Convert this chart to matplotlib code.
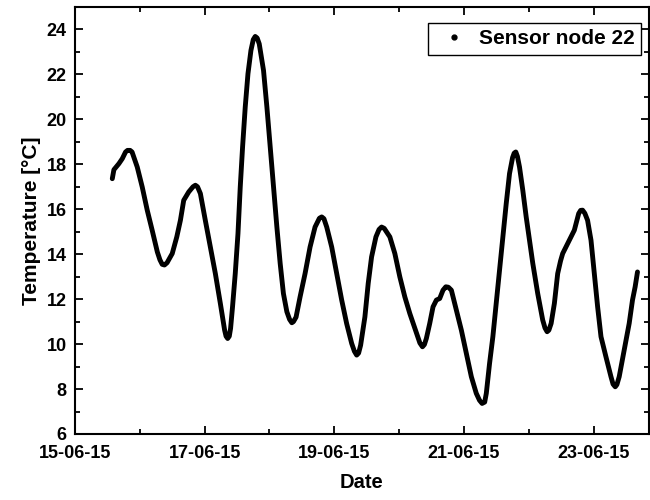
import matplotlib
matplotlib.use("Agg")
import matplotlib.pyplot as plt
import matplotlib.dates as mdates
from matplotlib.lines import Line2D
from matplotlib.ticker import MultipleLocator
from datetime import datetime, timedelta

# Time in days (day of June 2015, fractional) and temperature readings
day = [15.575, 15.60, 15.677, 15.729, 15.78, 15.81, 15.85, 15.88, 15.96, 16.037,
       16.114, 16.19, 16.27, 16.31, 16.345, 16.38, 16.42, 16.50, 16.57, 16.626,
       16.677, 16.754, 16.82, 16.857, 16.89, 16.934, 17.01, 17.088, 17.165, 17.242,
       17.308, 17.33, 17.355, 17.38, 17.40, 17.43, 17.472, 17.514, 17.549, 17.585,
       17.626, 17.668, 17.714, 17.75, 17.78, 17.81, 17.842, 17.908, 17.96, 18.011,
       18.062, 18.114, 18.165, 18.215, 18.268, 18.31, 18.345, 18.37, 18.41, 18.472,
       18.549, 18.626, 18.703, 18.77, 18.806, 18.84, 18.883, 18.96, 19.037, 19.114,
       19.19, 19.268, 19.31, 19.345, 19.375, 19.406, 19.472, 19.523, 19.575, 19.642,
       19.69, 19.729, 19.77, 19.806, 19.857, 19.934, 20.011, 20.088, 20.165, 20.268,
       20.32, 20.36, 20.39, 20.42, 20.472, 20.523, 20.575, 20.626, 20.677, 20.72,
       20.76, 20.806, 20.883, 20.96, 21.037, 21.114, 21.19, 21.24, 21.28, 21.32,
       21.345, 21.395, 21.446, 21.498, 21.549, 21.60, 21.652, 21.703, 21.75, 21.775,
       21.80, 21.825, 21.857, 21.908, 21.96, 22.011, 22.062, 22.138, 22.215, 22.25,
       22.283, 22.31, 22.345, 22.395, 22.446, 22.49, 22.523, 22.626, 22.703, 22.77,
       22.80, 22.83, 22.865, 22.907, 22.96, 23.011, 23.062, 23.114, 23.19, 23.268,
       23.30, 23.334, 23.36, 23.395, 23.472, 23.549, 23.60, 23.641, 23.677]
temp = [17.36, 17.76, 18.03, 18.25, 18.55, 18.62, 18.62, 18.55, 17.88, 16.99,
        15.96, 15.07, 14.10, 13.75, 13.55, 13.52, 13.62, 14.03, 14.77, 15.51,
        16.40, 16.77, 17.00, 17.07, 17.00, 16.70, 15.51, 14.32, 13.14, 11.81,
        10.62, 10.35, 10.25, 10.35, 10.70, 11.66, 13.14, 14.92, 16.99, 18.77,
        20.55, 22.03, 23.07, 23.55, 23.69, 23.62, 23.36, 22.18, 20.55, 18.77,
        16.99, 15.21, 13.59, 12.25, 11.44, 11.10, 10.95, 11.00, 11.20, 12.10,
        13.14, 14.32, 15.21, 15.60, 15.66, 15.58, 15.21, 14.32, 13.14, 11.96,
        10.92, 10.03, 9.68, 9.51, 9.60, 9.95, 11.21, 12.70, 13.88, 14.77,
        15.10, 15.21, 15.15, 14.99, 14.77, 14.03, 12.99, 12.10, 11.36, 10.48,
        10.05, 9.88, 9.98, 10.25, 10.92, 11.66, 11.96, 12.03, 12.40, 12.55,
        12.53, 12.40, 11.51, 10.62, 9.59, 8.55, 7.81, 7.50, 7.36, 7.42,
        7.81, 9.14, 10.33, 11.81, 13.29, 14.77, 16.25, 17.59, 18.30, 18.50,
        18.55, 18.35, 17.88, 16.84, 15.66, 14.62, 13.59, 12.25, 11.07, 10.72,
        10.55, 10.62, 10.92, 11.81, 13.14, 13.70, 14.03, 14.62, 15.07, 15.81,
        15.95, 15.96, 15.82, 15.51, 14.62, 13.14, 11.66, 10.33, 9.44, 8.55,
        8.22, 8.10, 8.20, 8.55, 9.73, 10.92, 11.96, 12.55, 13.21]
series_label = "Sensor node 22"
x_label = "Date"
y_label = "Temperature [°C]"

base = datetime(2015, 6, 1)
times = [base + timedelta(days=d - 1) for d in day]

plt.rcParams['font.family'] = ['Liberation Sans', 'DejaVu Sans']
plt.rcParams['font.weight'] = 'bold'

fig = plt.figure(figsize=(6.5, 5), dpi=100)
ax = fig.add_axes([0.1154, 0.132, 0.8826, 0.854])

ax.plot(times, temp, color='black', lw=3.5, solid_joinstyle='round',
        solid_capstyle='round')

ax.set_xlim(datetime(2015, 6, 15), datetime(2015, 6, 15) + timedelta(days=8.85))
ax.set_ylim(6, 25)

ax.xaxis.set_major_locator(mdates.DayLocator(bymonthday=[15, 17, 19, 21, 23]))
ax.xaxis.set_minor_locator(mdates.DayLocator(bymonthday=[16, 18, 20, 22, 24]))
ax.xaxis.set_major_formatter(mdates.DateFormatter('%d-%m-%y'))
ax.yaxis.set_major_locator(MultipleLocator(2))
ax.yaxis.set_minor_locator(MultipleLocator(1))

ax.tick_params(which='both', direction='in', top=True, right=True, width=1.3,
               labelsize=13)
ax.tick_params(which='major', length=6)
ax.tick_params(which='minor', length=3.5)
ax.tick_params(axis='x', which='major', pad=8)
ax.tick_params(axis='y', which='major', pad=6)
for lab in ax.get_xticklabels() + ax.get_yticklabels():
    lab.set_fontweight('bold')
for s in ax.spines.values():
    s.set_linewidth(1.5)

ax.set_xlabel(x_label, fontsize=14.5, fontweight='bold', labelpad=8)
ax.set_ylabel(y_label, fontsize=15, fontweight='bold', labelpad=4)

handle = Line2D([], [], color='black', marker='o', markersize=3.5, ls='none')
leg = ax.legend([handle], [series_label], loc='upper right',
                bbox_to_anchor=(0.986, 0.962), prop={'size': 15, 'weight': 'bold'},
                frameon=True, fancybox=False, edgecolor='black', framealpha=1,
                borderpad=0.3, handletextpad=0.25, handlelength=1.9,
                borderaxespad=0)
leg.get_frame().set_linewidth(1.0)

fig.savefig('out.png', dpi=100)
